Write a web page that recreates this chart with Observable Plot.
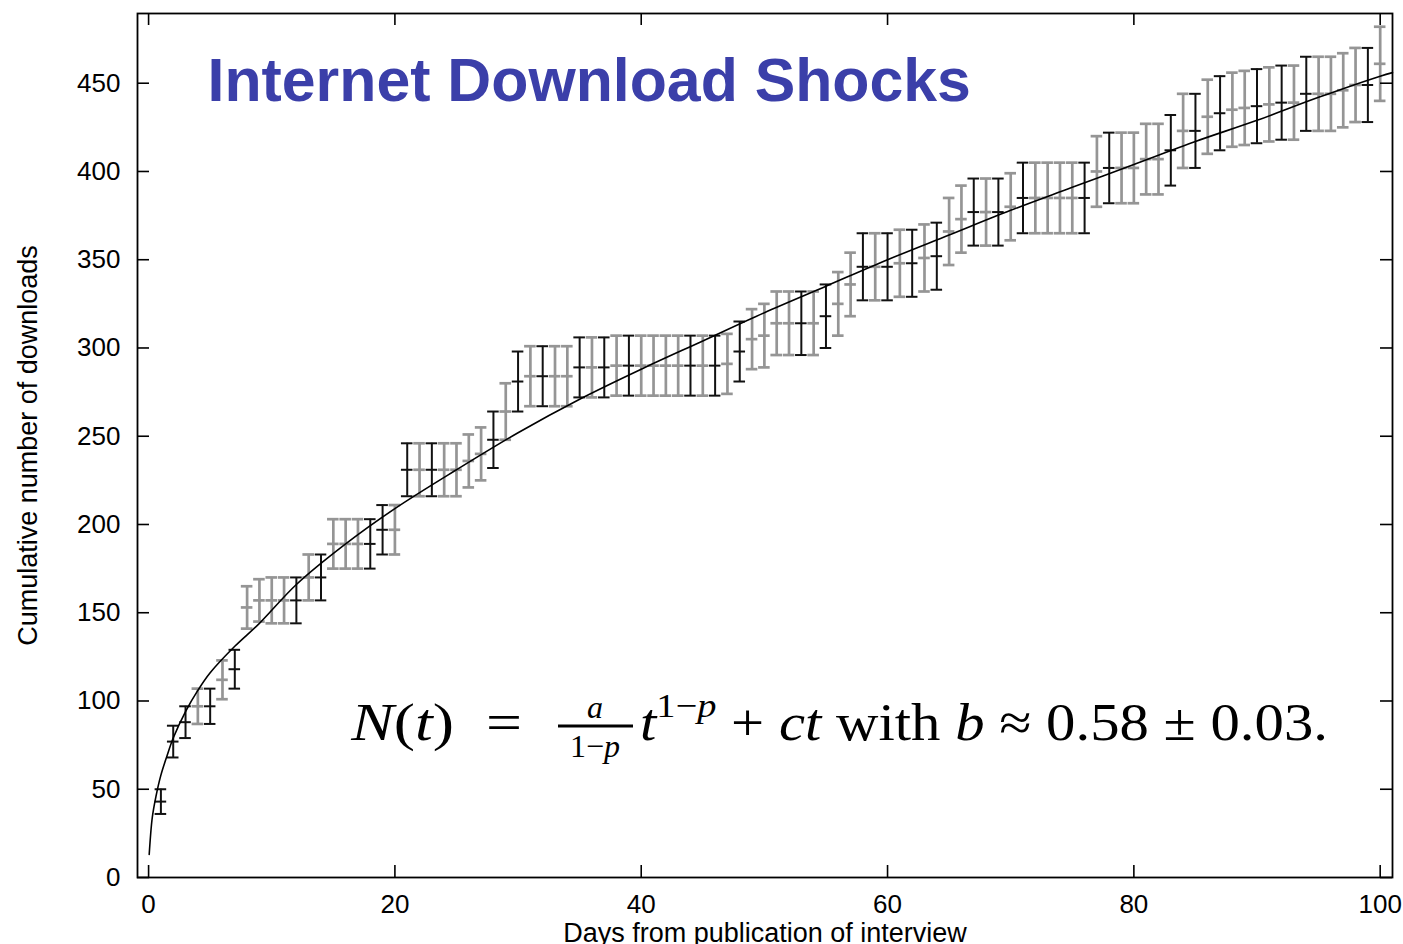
<!DOCTYPE html>
<html><head><meta charset="utf-8">
<script src="https://cdn.jsdelivr.net/npm/d3@7"></script>
<script src="https://cdn.jsdelivr.net/npm/@observablehq/plot@0.6"></script>
<style>
body{margin:0;background:#fff;}
#chart{position:relative;width:1403px;height:944px;overflow:hidden;background:#fff;}
</style></head><body><div id="chart"></div>
<script>
// ---- data ----
const days = [1,2,3,4,5,6,7,8,9,10,11,12,13,14,15,16,17,18,19,20,
  21,22,23,24,25,26,27,28,29,30,31,32,33,34,35,36,37,38,39,40,
  41,42,43,44,45,46,47,48,49,50,51,52,53,54,55,56,57,58,59,60,
  61,62,63,64,65,66,67,68,69,70,71,72,73,74,75,76,77,78,79,80,
  81,82,83,84,85,86,87,88,89,90,91,92,93,94,95,96,97,98,99,100];
const counts = [43,77,88,97,97,112,118,153,157,157,157,157,170,170,189,189,189,189,197,197,
  231,231,231,231,231,236,240,248,264,281,284,284,284,284,289,289,289,290,290,290,
  290,290,290,290,290,290,291,298,305,307,314,314,314,314,318,325,336,346,346,346,
  348,348,351,352,366,373,377,377,377,380,385,385,385,385,385,385,400,402,402,402,
  407,407,412,423,423,431,433,435,436,437,438,439,439,444,444,444,446,449,449,461];
const errors = [7,9,9,10,10,11,11,12,12,13,13,13,13,13,14,14,14,14,14,14,
  15,15,15,15,15,15,15,16,16,17,17,17,17,17,17,17,17,17,17,17,
  17,17,17,17,17,17,17,17,17,18,18,18,18,18,18,18,18,19,19,19,
  19,19,19,19,19,19,19,19,19,19,20,20,20,20,20,20,20,20,20,20,
  20,20,20,21,21,21,21,21,21,21,21,21,21,21,21,21,21,21,21,21];
// 1 = black bar, 0 = grey bar
const series = [1,1,1,0,1,0,1,0,0,0,0,1,0,1,0,0,0,1,1,0,
  1,0,1,0,0,0,0,1,0,1,0,1,0,0,1,0,1,0,1,0,
  0,0,0,1,0,1,0,1,0,0,0,0,1,0,1,0,0,1,0,1,
  0,1,0,1,0,0,1,0,1,0,1,0,0,0,0,1,0,1,0,0,
  0,0,1,0,1,0,1,0,0,1,0,1,0,1,0,0,0,0,1,0];
// fitted curve, points
const fitT = [0.05,0.3,0.6,1,1.5,2,3,4,5,7,9,12,16,20,25,30,35,40,45,50,55,60,65,70,75,80,85,90,95,100,101];
const fitN = [13,34,46,58,69,79,94,106,116,131,144,166,189,209,231,252,271,288,304,320,335,350,364,378,391,404,417,429,442,454,456];
const xTicks = [0,20,40,60,80,100];
const yTicks = [0,50,100,150,200,250,300,350,400,450];
const titleText = "Internet Download Shocks";
const xLabel = "Days from publication of interview";
const yLabel = "Cumulative number of downloads";

// ---- build ----
const rows = days.map((d,i)=>({day:d, n:counts[i], lo:counts[i]-errors[i], hi:counts[i]+errors[i], black:series[i]===1}));
const greyRows = rows.filter(r=>!r.black);
const blackRows = rows.filter(r=>r.black);
const fit = fitT.map((t,i)=>({t, n:fitN[i]}));

const W=1403,H=944,ML=137,MR=11,MT=13,MB=67;
const innerW=W-ML-MR, innerH=H-MT-MB, TL=12, capHalf=0.47;

function bars(rs, color, sw){
  return [
    Plot.ruleX(rs,{x:"day",y1:"lo",y2:"hi",stroke:color,strokeWidth:sw}),
    Plot.ruleY(rs,{y:"lo",x1:d=>d.day-capHalf,x2:d=>d.day+capHalf,stroke:color,strokeWidth:sw}),
    Plot.ruleY(rs,{y:"hi",x1:d=>d.day-capHalf,x2:d=>d.day+capHalf,stroke:color,strokeWidth:sw}),
    Plot.ruleY(rs,{y:"n",x1:d=>d.day-capHalf,x2:d=>d.day+capHalf,stroke:color,strokeWidth:sw})
  ];
}

const plot = Plot.plot({
  width:W, height:H, marginLeft:ML, marginRight:MR, marginTop:MT, marginBottom:MB,
  x:{domain:[-0.9,101]}, y:{domain:[0,489.5]},
  style:{fontFamily:"'Liberation Sans', Arial, Helvetica, sans-serif", fontSize:"26px", background:"#fff", color:"#000"},
  marks:[
    Plot.axisY(yTicks,{tickSize:0,tickPadding:17,fontSize:26,label:null}),
    Plot.axisX(xTicks,{tickSize:0,tickPadding:17,fontSize:26,label:null}),
    ...bars(blackRows,"#111",2),
    ...bars(greyRows,"#959595",2.7),
    Plot.line(fit,{x:"t",y:"n",curve:"catmull-rom",stroke:"#000",strokeWidth:1.6}),
    Plot.tickY(yTicks,{y:d=>d,insetRight:innerW-TL,stroke:"#000",strokeWidth:1.6}),
    Plot.tickY(yTicks,{y:d=>d,insetLeft:innerW-TL,stroke:"#000",strokeWidth:1.6}),
    Plot.tickX(xTicks,{x:d=>d,insetTop:innerH-TL,stroke:"#000",strokeWidth:1.6}),
    Plot.tickX(xTicks,{x:d=>d,insetBottom:innerH-TL,stroke:"#000",strokeWidth:1.6}),
    Plot.frame({stroke:"#000",strokeWidth:1.8}),
    Plot.text([titleText],{frameAnchor:"top-left",dx:70,dy:68,text:d=>d,fill:"#3b3fa9",fontSize:60.8,fontWeight:"bold",textAnchor:"start",lineAnchor:"middle"}),
    Plot.text([yLabel],{frameAnchor:"left",text:d=>d,rotate:-90,dx:-109,fontSize:27,textAnchor:"middle",lineAnchor:"middle"}),
    Plot.text([xLabel],{frameAnchor:"bottom",text:d=>d,dy:56,fontSize:27,textAnchor:"middle",lineAnchor:"middle"})
  ]
});
document.getElementById("chart").appendChild(plot);

// ---- formula annotation ----
const svg = d3.select(plot);
const fg = svg.append("g").attr("font-family","'Liberation Serif','Times New Roman',serif").attr("fill","#000").style("white-space","pre");
function fitTo(g, x0, x1){
  const bb = g.node().getBBox();
  const s = (x1-x0)/bb.width;
  g.attr("transform",`translate(${x0},0) scale(${s},1) translate(${-bb.x},0)`);
}
const p1 = fg.append("g");
const t1 = p1.append("text").attr("y",740).attr("font-size",52);
t1.append("tspan").attr("font-style","italic").text("N");
t1.append("tspan").text("(");
t1.append("tspan").attr("font-style","italic").text("t");
t1.append("tspan").text(")  =");
fitTo(p1,350,522);

fg.append("text").attr("x",595).attr("y",718).attr("font-size",32).attr("font-style","italic").attr("text-anchor","middle").text("a");
fg.append("line").attr("x1",558).attr("x2",633).attr("y1",726).attr("y2",726).attr("stroke","#000").attr("stroke-width",3);
const den = fg.append("text").attr("x",595).attr("y",757).attr("font-size",32).attr("text-anchor","middle");
den.append("tspan").text("1−");
den.append("tspan").attr("font-style","italic").text("p");

const p2 = fg.append("g");
const t2 = p2.append("text").attr("y",740).attr("font-size",52);
t2.append("tspan").attr("font-style","italic").text("t");
t2.append("tspan").attr("font-size",34).attr("dy",-23).text("1−");
t2.append("tspan").attr("font-size",34).attr("font-style","italic").text("p");
t2.append("tspan").attr("dy",23).text(" + ");
t2.append("tspan").attr("font-style","italic").text("ct");
t2.append("tspan").text(" with ");
t2.append("tspan").attr("font-style","italic").text("b");
t2.append("tspan").text(" ≈ 0.58 ± 0.03.");
fitTo(p2,640,1328);
</script></body></html>
